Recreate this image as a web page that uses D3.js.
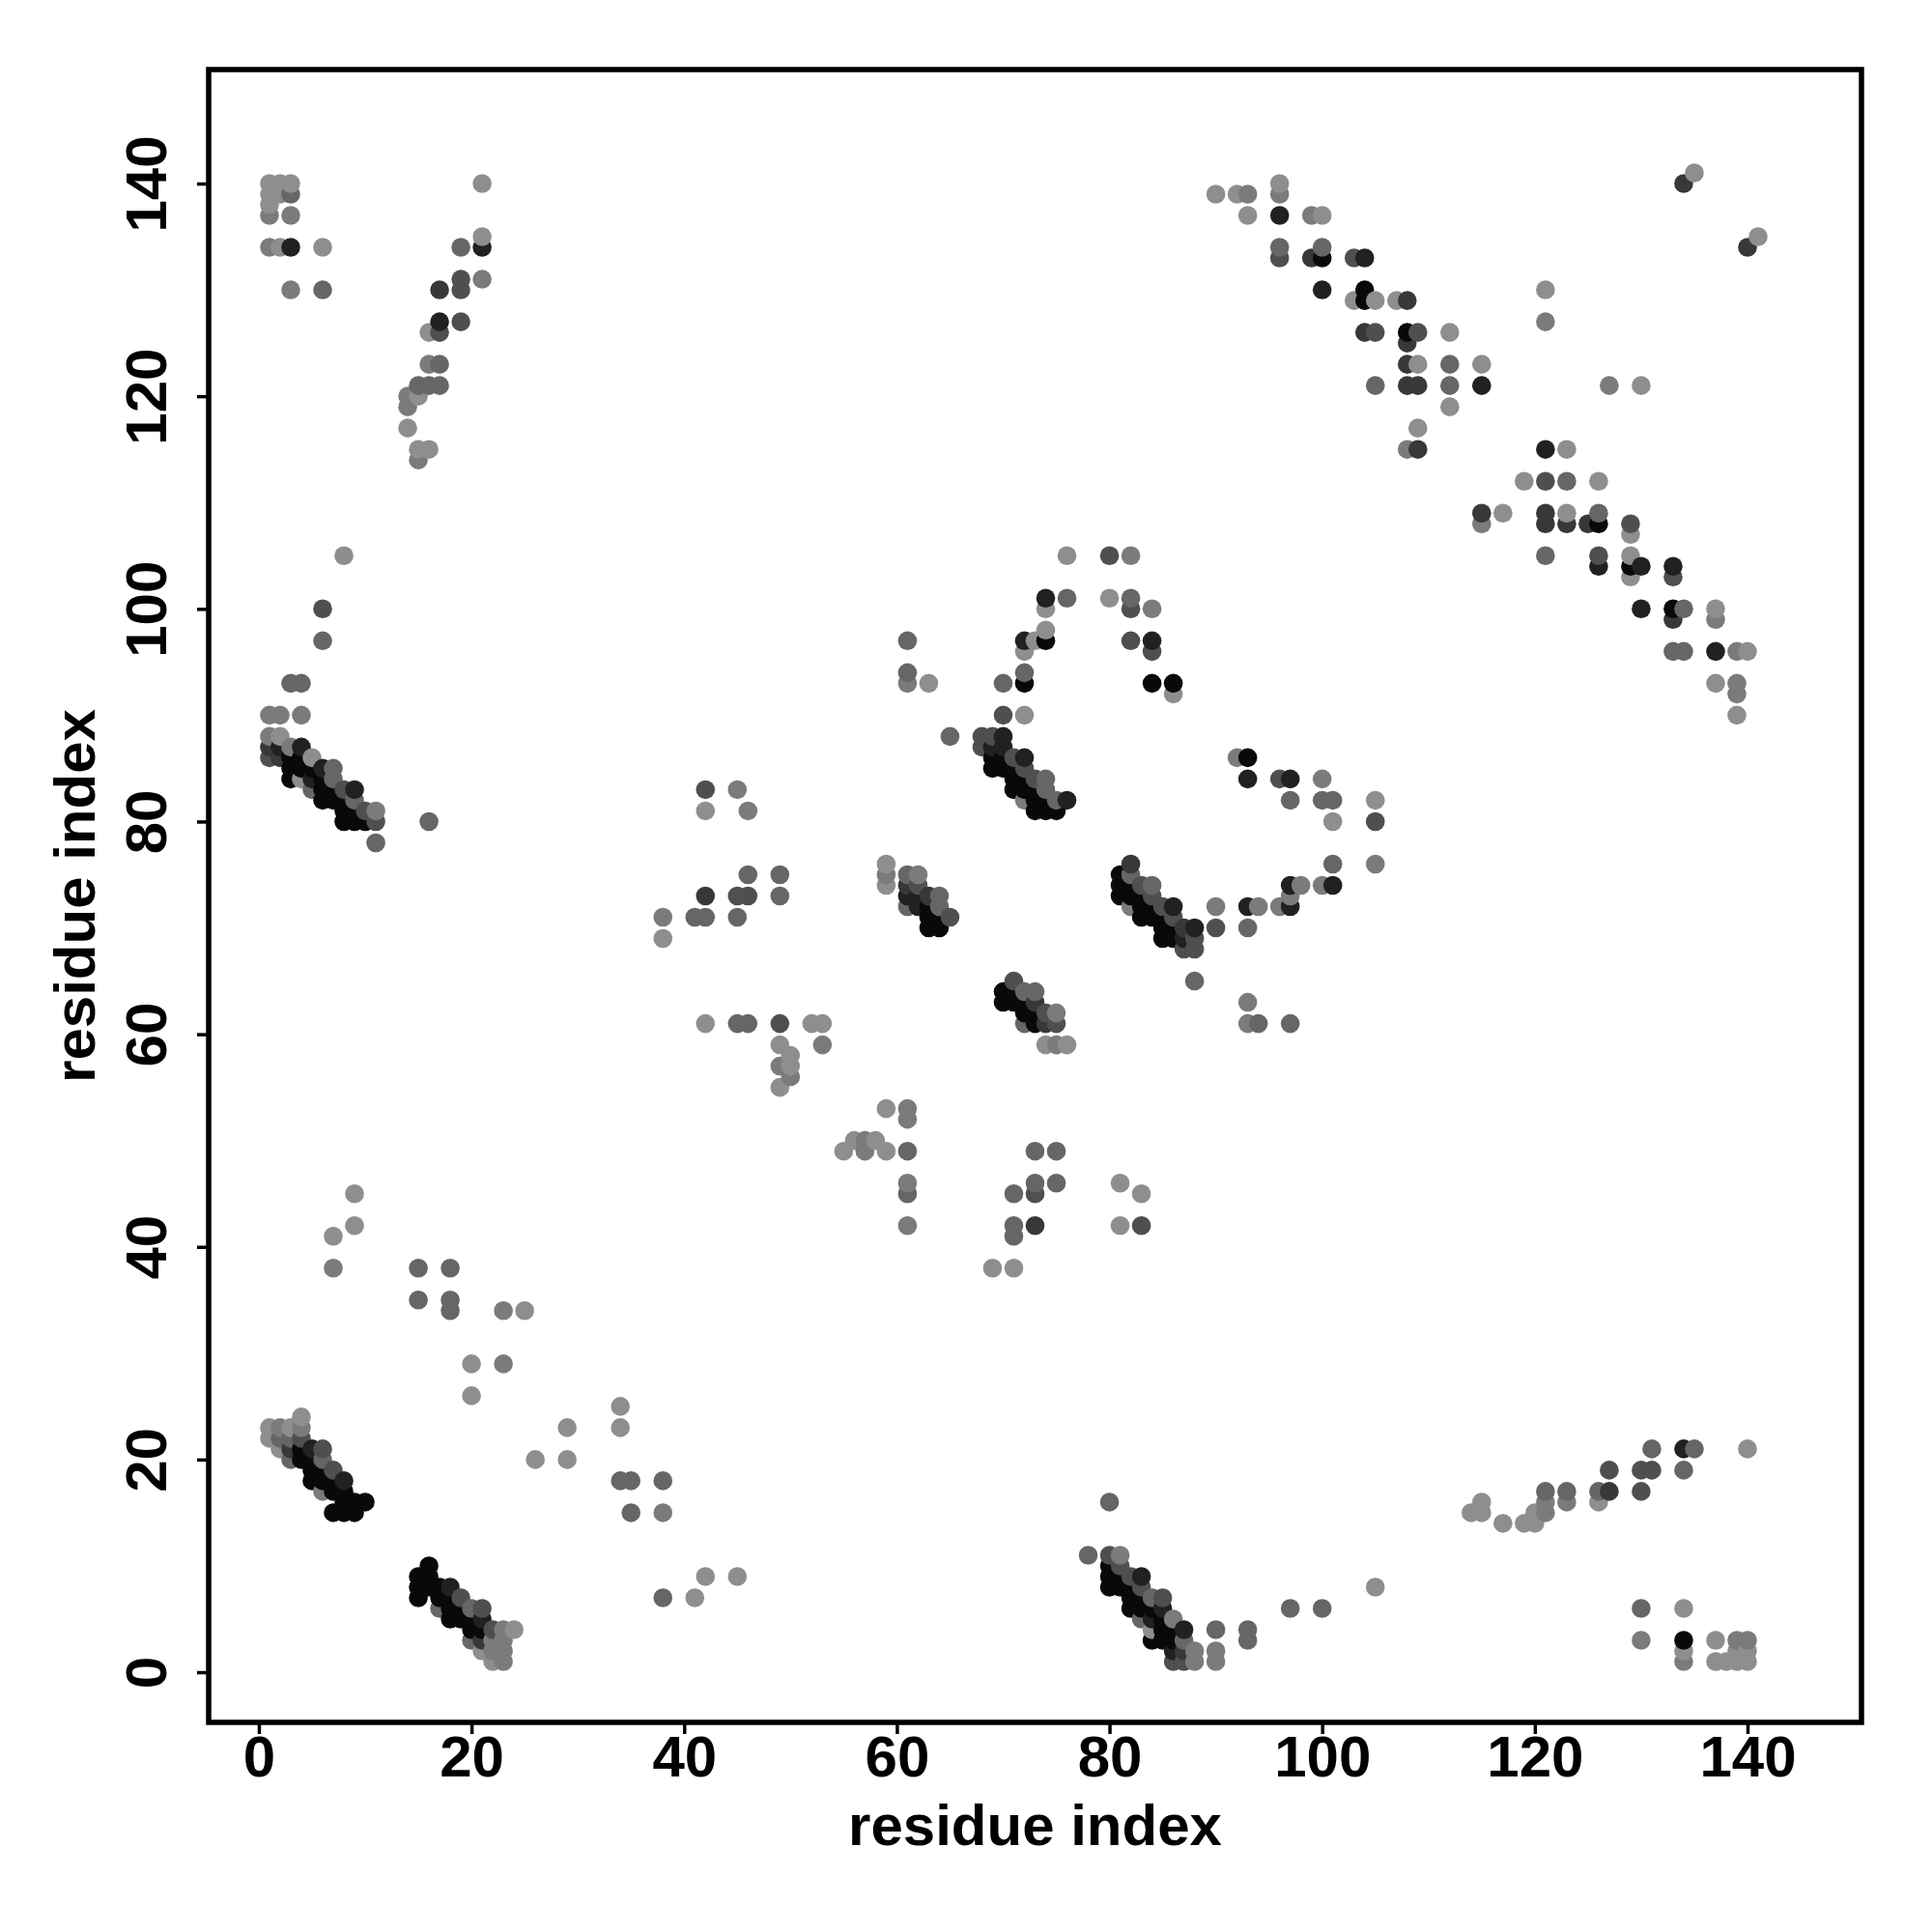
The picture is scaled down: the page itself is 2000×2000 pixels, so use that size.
<!DOCTYPE html>
<html><head><meta charset="utf-8">
<script src="https://cdn.jsdelivr.net/npm/d3@7"></script>
<style>html,body{margin:0;background:#fff}svg{display:block}</style></head>
<body><svg id="c" width="2000" height="2000"></svg>
<script>
// Each contact: [residue i, residue j, strength 1 (weak) .. 7 (strong)]
const clusterA = [[4,24,1],[1,23,1],[2,23,2],[3,23,1],[4,23,2],[1,22,1],[2,22,3],[3,22,3],[4,22,4],[2,21,1],[3,21,5],[4,21,7],[5,21,6],[6,21,4],[3,20,3],[4,20,7],[5,20,7],[6,20,3],[5,19,7],[6,19,7],[7,19,4],[5,18,7],[6,18,7],[7,18,7],[8,18,6],[6,17,2],[7,17,7],[8,17,7],[8,16,7],[9,16,7],[10,16,7],[7,15,7],[8,15,7],[9,15,7]];
const clusterB = [[16,10,7],[15,9,7],[16,9,7],[15,8,7],[16,8,7],[17,8,7],[18,8,6],[15,7,7],[17,7,7],[18,7,7],[19,7,4],[17,6,3],[18,6,7],[19,6,7],[20,6,3],[21,6,4],[18,5,7],[19,5,7],[20,5,7],[21,5,6],[20,4,7],[21,4,7],[22,4,4],[23,4,2],[24,4,1],[20,3,3],[21,3,5],[22,3,2],[23,3,2],[21,2,1],[22,2,2],[23,2,2],[22,1,1],[23,1,2]];
const clusterC = [[3,93,3],[4,93,3],[1,90,2],[2,90,2],[4,90,2],[1,88,2],[2,88,1],[1,87,5],[2,87,6],[3,87,2],[4,87,6],[1,86,4],[2,86,5],[3,86,7],[4,86,7],[5,86,1],[3,85,7],[4,85,7],[5,85,7],[6,85,6],[7,85,3],[3,84,7],[4,84,1],[5,84,6],[6,84,7],[7,84,3],[5,83,3],[6,83,7],[7,83,7],[8,83,4],[9,83,6],[6,82,7],[7,82,7],[8,82,7],[9,82,3],[8,81,7],[9,81,7],[10,81,4],[11,81,2],[8,80,7],[9,80,7],[10,80,7],[11,80,4],[11,78,3],[16,80,3],[6,100,4],[6,97,3],[8,105,1]];
const clusterD = [[68,88,4],[69,88,4],[70,88,6],[68,87,4],[69,87,6],[70,87,6],[69,86,7],[70,86,7],[71,86,4],[72,86,6],[69,85,7],[70,85,7],[71,85,7],[72,85,4],[71,84,7],[72,84,7],[73,84,4],[74,84,3],[71,83,7],[72,83,7],[73,83,7],[74,83,3],[72,82,2],[73,82,7],[74,82,7],[75,82,3],[76,82,6],[73,81,7],[74,81,7],[75,81,7],[65,88,3]];
const clusterE = [[59,76,1],[59,75,2],[59,74,1],[61,75,3],[62,75,2],[61,74,5],[62,74,4],[61,73,6],[62,73,6],[63,73,5],[64,73,3],[61,72,3],[62,72,6],[63,72,7],[64,72,3],[63,71,7],[64,71,7],[65,71,4],[63,70,7],[64,70,7]];
const clusterF = [[82,76,5],[81,75,7],[82,75,3],[81,74,7],[82,74,7],[83,74,4],[84,74,3],[81,73,7],[82,73,7],[83,73,7],[84,73,4],[82,72,2],[83,72,7],[84,72,7],[85,72,4],[86,72,6],[83,71,7],[84,71,7],[85,71,7],[86,71,4],[85,70,7],[86,70,7],[87,70,5],[88,70,6],[85,69,7],[86,69,7],[87,69,6],[88,69,4],[87,68,4],[88,68,4],[90,72,2],[90,70,4],[88,65,3]];
const clusterG = [[71,65,4],[70,64,7],[71,64,7],[72,64,3],[73,64,3],[70,63,7],[71,63,7],[72,63,7],[73,63,5],[72,62,7],[73,62,7],[74,62,4],[75,62,2],[72,61,3],[73,61,7],[74,61,5],[75,61,4],[74,59,1],[75,59,2],[76,59,1]];
const clusterH = [[78,11,3],[80,11,4],[81,11,2],[80,10,7],[81,10,4],[80,9,7],[81,9,7],[82,9,4],[83,9,6],[80,8,7],[81,8,7],[82,8,7],[83,8,4],[82,7,7],[83,7,7],[84,7,3],[85,7,4],[82,6,7],[83,6,7],[84,6,7],[85,6,6],[83,5,3],[84,5,6],[85,5,7],[86,5,2],[84,4,1],[85,4,7],[86,4,7],[87,4,6],[84,3,7],[85,3,7],[86,3,7],[87,3,3],[86,2,6],[87,2,5],[88,2,2],[86,1,4],[87,1,4],[88,1,2],[90,4,3],[90,2,2],[90,1,2],[93,4,3],[93,3,3],[97,6,3],[100,6,3],[105,8,1],[80,16,3]];
const topLeft = [[1,140,1],[2,140,1],[3,140,1],[1,139,1],[2,139,1],[3,139,3],[1,138,1],[1,137,2],[3,137,2],[1,134,2],[2,134,1],[3,134,6],[6,134,1],[3,130,2],[6,130,3],[21,140,1],[21,135,1],[21,134,6],[19,134,3],[19,131,4],[19,130,4],[21,131,2],[17,130,5],[17,127,6],[19,127,4],[17,126,4],[16,126,1],[16,123,2],[17,123,3],[15,121,3],[16,121,3],[17,121,3],[14,120,2],[15,120,1],[14,119,2],[14,117,1],[15,115,1],[16,115,1],[15,114,2]];
const topRight = [[90,139,1],[92,139,1],[93,139,2],[93,137,1],[96,140,1],[96,139,2],[96,137,6],[99,137,2],[100,137,1],[96,134,3],[96,133,4],[99,133,5],[100,134,3],[100,133,7],[103,133,4],[104,133,6],[100,130,6],[104,130,7],[104,129,7],[103,129,1],[105,129,1],[107,129,1],[108,129,5],[104,126,5],[105,126,4],[108,126,7],[109,126,4],[112,126,1],[108,125,5],[108,123,5],[109,123,1],[112,123,3],[115,123,1],[105,121,3],[108,121,5],[109,121,5],[112,121,3],[115,121,6],[112,119,1],[109,117,1],[108,115,2],[109,115,5],[134,140,5],[135,141,1],[140,134,5],[141,135,1],[121,130,1],[121,127,2],[127,121,2],[130,121,1]];
const rightBand = [[121,115,6],[123,115,1],[119,112,1],[121,112,4],[123,112,3],[126,112,1],[115,109,5],[115,108,2],[117,109,1],[121,109,5],[121,108,5],[123,109,1],[123,108,5],[125,108,5],[126,108,7],[126,109,3],[129,108,4],[129,107,1],[121,105,3],[126,105,4],[126,104,6],[129,105,1],[129,104,7],[130,104,6],[129,103,1],[133,104,6],[133,103,4],[130,100,6],[133,100,7],[134,100,3],[133,99,5],[137,100,1],[137,99,2],[133,96,3],[134,96,3],[137,96,6],[139,96,2],[140,96,1],[137,93,1],[139,93,2],[139,92,2],[139,90,1]];
const arch = [[76,105,1],[80,105,4],[82,105,2],[74,101,6],[76,101,3],[80,101,1],[82,101,3],[82,100,4],[84,100,2],[74,100,1],[74,98,1],[74,97,7],[73,97,1],[72,97,6],[72,96,1],[82,97,4],[84,97,6],[84,96,4],[72,94,3],[72,93,7],[70,93,3],[84,93,7],[86,93,7],[86,92,1],[70,90,4],[72,90,1],[61,97,3],[61,94,3],[61,93,2],[63,93,1]];
const lowerRight = [[130,6,3],[130,3,2],[134,6,1],[134,3,7],[134,2,1],[134,1,2],[137,3,1],[137,1,1],[139,3,2],[140,3,2],[138,1,1],[139,1,1],[140,1,1],[139,2,1],[140,2,1],[114,15,1],[115,15,1],[115,16,1],[117,14,1],[119,14,1],[120,14,1],[120,15,1],[121,15,2],[121,16,2],[121,17,3],[123,17,3],[123,16,2],[126,16,1],[126,17,3],[127,17,5],[127,19,4],[130,17,4],[130,19,4],[131,19,4],[131,21,3],[134,21,6],[135,21,3],[134,19,3],[140,21,1]];
const lowerMiddle = [[7,41,1],[7,38,2],[9,45,1],[9,42,1],[15,38,3],[15,35,3],[18,38,3],[18,35,3],[18,34,3],[23,34,2],[25,34,1],[20,29,1],[23,29,2],[20,26,1],[26,20,1],[29,23,1],[29,20,1],[34,25,1],[34,23,1],[34,18,3],[35,18,3],[35,15,3],[38,18,3],[38,15,2],[38,7,3],[41,7,1],[42,9,1],[45,9,1]];
const center = [[69,38,1],[71,38,1],[71,42,3],[71,41,3],[71,45,3],[73,45,4],[73,46,3],[73,49,3],[73,42,5],[75,49,3],[75,46,3],[81,46,1],[81,42,1],[83,45,1],[83,42,4],[55,49,1],[56,50,1],[57,50,2],[57,49,2],[58,50,1],[59,49,1],[59,53,1],[61,53,2],[61,52,2],[61,49,3],[61,46,2],[61,45,3],[61,42,2],[42,61,1],[45,61,3],[46,61,3],[49,61,4],[52,61,1],[53,61,1],[53,59,2],[49,59,1],[50,58,1],[50,57,1],[49,57,2],[50,56,2],[49,55,1],[38,71,2],[38,69,1],[41,71,3],[42,71,3],[42,73,5],[45,73,4],[45,71,3],[46,73,4],[46,75,3],[49,75,3],[49,73,3],[42,83,4],[42,81,1],[45,83,2],[46,81,2]];
const rightMiddle = [[93,63,2],[93,61,2],[94,61,3],[97,61,3],[93,72,6],[94,72,2],[93,70,3],[96,72,2],[97,72,6],[97,73,2],[97,74,6],[98,74,2],[100,74,2],[101,74,6],[101,76,3],[105,76,2],[105,80,4],[101,80,1],[101,82,3],[100,82,3],[100,84,2],[105,82,1],[97,82,3],[96,84,4],[97,84,6],[92,86,2],[93,86,7],[93,84,6]];
const tickValues = [0,20,40,60,80,100,120,140];
const axisTitle = "residue index";
const shades = ["#8e8e8e","#7b7b7b","#666666","#4f4f4f","#383838","#212121","#090909"];

const contacts = [clusterA,clusterB,clusterC,clusterD,clusterE,clusterF,clusterG,clusterH,topLeft,topRight,rightBand,arch,lowerRight,lowerMiddle,center,rightMiddle].flat()
  .sort((a,b)=>d3.ascending(a[0],b[0])||d3.ascending(a[1],b[1]));

const L=216,R=1927,T=72,B=1783;
const x=d3.scaleLinear().domain([-4.72,150.72]).range([L,R]);
const y=d3.scaleLinear().domain([-4.72,150.72]).range([B,T]);
const shade=d3.scaleOrdinal().domain([1,2,3,4,5,6,7]).range(shades);
const svg=d3.select("#c");
const font='"Liberation Sans",Arial,sans-serif';
const size=60;

svg.append("g").selectAll("circle").data(contacts).join("circle")
  .attr("cx",d=>x(d[0])).attr("cy",d=>y(d[1])).attr("r",9.8).attr("fill",d=>shade(d[2]));

const ax=svg.append("g").attr("transform",`translate(0,${B})`)
  .call(d3.axisBottom(x).tickValues(tickValues).tickSize(12).tickPadding(8).tickFormat(d3.format("d")));
const ay=svg.append("g").attr("transform",`translate(${L},0)`)
  .call(d3.axisLeft(y).tickValues(tickValues).tickSize(12).tickPadding(8).tickFormat(d3.format("d")));
[ax,ay].forEach(g=>{g.select(".domain").remove();
  g.selectAll("line").attr("stroke","#000").attr("stroke-width",3.5);
  g.selectAll("text").attr("fill","#000").style("font",`bold ${size}px ${font}`);});
ax.selectAll("text").attr("y",56).attr("dy",0);
ay.selectAll("text").attr("x",0).attr("y",0).attr("dy",0)
  .attr("text-anchor","middle").attr("transform","translate(-44,0) rotate(-90)");

svg.append("rect").attr("x",L).attr("y",T).attr("width",R-L).attr("height",B-T)
  .attr("fill","none").attr("stroke","#000").attr("stroke-width",5.5);

svg.append("text").attr("x",(L+R)/2).attr("y",1910).attr("text-anchor","middle")
  .style("font",`bold ${size}px ${font}`).text(axisTitle);
svg.append("text").attr("transform",`translate(98,${(T+B)/2}) rotate(-90)`).attr("text-anchor","middle")
  .style("font",`bold ${size}px ${font}`).text(axisTitle);
</script></body></html>
